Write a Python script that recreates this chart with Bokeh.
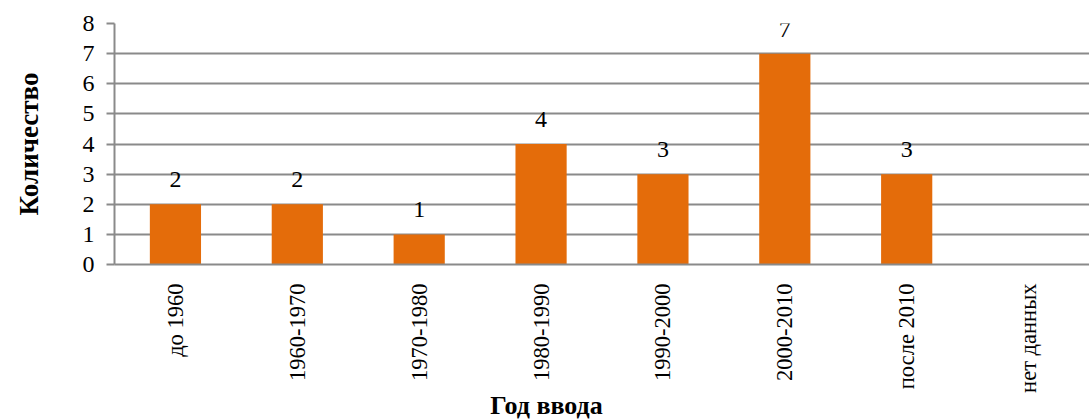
import math
from bokeh.plotting import figure
from bokeh.layouts import column
from bokeh.models import ColumnDataSource, LabelSet, Label, FactorRange, Range1d, SingleIntervalTicker
from bokeh.embed import file_html
from bokeh.resources import INLINE

categories = ["до 1960", "1960-1970", "1970-1980", "1980-1990", "1990-2000", "2000-2010", "после 2010", "нет данных"]
values = [2, 2, 1, 4, 3, 7, 3, 0]
labels = ["2", "2", "1", "4", "3", "7", "3", ""]
y_title = "Количество"
x_title = "Год ввода"

FONT = "'Liberation Serif', 'Times New Roman', serif"
GRID = "#8a8a8a"
BAR = "#E46C0A"

src = ColumnDataSource(dict(cat=categories, val=values, lab=labels))

fig = figure(width=1089, height=395, x_range=FactorRange(*categories, range_padding=0),
             y_range=Range1d(0, 8), output_backend="svg", toolbar_location=None,
             min_border_left=114, min_border_right=0, min_border_top=23, min_border_bottom=126)
fig.outline_line_color = None
fig.background_fill_color = "white"
fig.border_fill_color = "white"

fig.vbar(x="cat", top="val", width=0.42, source=src, fill_color=BAR, line_color=None)

lbl = LabelSet(x="cat", y="val", text="lab", source=src, text_align="center",
               text_baseline="alphabetic", y_offset=17, text_font=FONT,
               text_font_size="24px", text_color="black")
fig.add_layout(lbl)

fig.xgrid.grid_line_color = None
fig.ygrid.grid_line_color = GRID
fig.ygrid.grid_line_width = 2
fig.yaxis.ticker = SingleIntervalTicker(interval=1)
fig.yaxis.minor_tick_line_color = None
fig.yaxis.major_tick_out = 8
fig.yaxis.major_tick_in = 0
fig.yaxis.major_tick_line_color = GRID
fig.yaxis.major_tick_line_width = 2
fig.yaxis.axis_line_color = GRID
fig.yaxis.axis_line_width = 2
fig.yaxis.major_label_text_font = FONT
fig.yaxis.major_label_text_font_size = "24px"
fig.yaxis.major_label_text_color = "black"
fig.yaxis.major_label_standoff = 12
fig.yaxis.axis_label = y_title
fig.yaxis.axis_label_text_font = FONT
fig.yaxis.axis_label_text_font_style = "bold"
fig.yaxis.axis_label_text_font_size = "27px"
fig.yaxis.axis_label_text_color = "black"
fig.yaxis.axis_label_standoff = 36

fig.xaxis.major_tick_line_color = None
fig.xaxis.minor_tick_line_color = None
fig.xaxis.axis_line_color = GRID
fig.xaxis.axis_line_width = 2
fig.xaxis.major_label_orientation = math.pi / 2
fig.xaxis.major_label_text_font = FONT
fig.xaxis.major_label_text_font_size = "22.5px"
fig.xaxis.major_label_text_color = "black"
fig.xaxis.major_label_standoff = 13

# strip below the chart carrying the x-axis title (frame aligned with the chart frame)
tfig = figure(width=1089, height=24, output_backend="svg", toolbar_location=None,
              x_axis_type=None, y_axis_type=None, min_border=0)
tfig.outline_line_color = None
tfig.grid.grid_line_color = None
tfig.background_fill_color = "white"
tfig.border_fill_color = "white"
xt = Label(x=432, y=14, x_units="screen", y_units="screen", text=x_title,
           text_align="center", text_baseline="middle", text_font=FONT,
           text_font_style="bold", text_font_size="26px", text_color="black")
tfig.add_layout(xt)

p = column(fig, tfig, spacing=0)

open("out.html", "w").write(file_html(p, INLINE))
